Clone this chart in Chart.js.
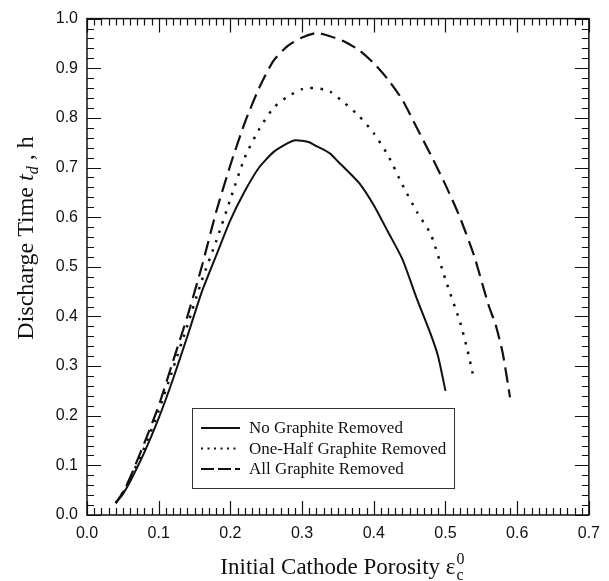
<!DOCTYPE html>
<html>
<head>
<meta charset="utf-8">
<script src="https://cdn.jsdelivr.net/npm/chart.js@4.4.1/dist/chart.umd.min.js"></script>
<style>
    html, body { margin: 0; padding: 0; background: #fff; }
</style>
</head>
<body>
<canvas id="dischargeChart" width="609" height="581"></canvas>
<script>
// initial cathode porosity (x) and discharge time in hours (y)
const porosityNone = [0.04, 0.05, 0.06, 0.08, 0.10, 0.12, 0.14, 0.16, 0.18, 0.20, 0.22, 0.24, 0.26, 0.28, 0.29, 0.30, 0.31, 0.32, 0.33, 0.34, 0.35, 0.36, 0.38, 0.40, 0.42, 0.44, 0.46, 0.48, 0.49, 0.50];
const timeNone = [0.024, 0.042, 0.067, 0.126, 0.195, 0.274, 0.360, 0.449, 0.522, 0.594, 0.652, 0.700, 0.731, 0.749, 0.755, 0.754, 0.751, 0.743, 0.736, 0.727, 0.712, 0.698, 0.668, 0.624, 0.570, 0.515, 0.436, 0.362, 0.318, 0.250];

const porosityHalf = [0.04, 0.05, 0.06, 0.08, 0.10, 0.12, 0.14, 0.16, 0.18, 0.20, 0.22, 0.24, 0.26, 0.28, 0.30, 0.31, 0.32, 0.33, 0.34, 0.36, 0.38, 0.40, 0.42, 0.44, 0.46, 0.48, 0.50, 0.52, 0.53, 0.538];
const timeHalf = [0.024, 0.045, 0.072, 0.136, 0.210, 0.295, 0.382, 0.472, 0.551, 0.636, 0.720, 0.777, 0.820, 0.843, 0.858, 0.860, 0.860, 0.857, 0.852, 0.829, 0.803, 0.769, 0.724, 0.665, 0.611, 0.564, 0.474, 0.390, 0.336, 0.285];

const porosityAll = [0.04, 0.05, 0.06, 0.08, 0.10, 0.12, 0.14, 0.16, 0.18, 0.20, 0.22, 0.24, 0.26, 0.28, 0.30, 0.32, 0.34, 0.36, 0.38, 0.40, 0.42, 0.44, 0.46, 0.48, 0.50, 0.52, 0.54, 0.56, 0.57, 0.58, 0.59];
const timeAll = [0.024, 0.045, 0.075, 0.145, 0.220, 0.310, 0.400, 0.500, 0.610, 0.705, 0.790, 0.860, 0.915, 0.945, 0.962, 0.971, 0.964, 0.953, 0.936, 0.910, 0.877, 0.836, 0.780, 0.724, 0.665, 0.600, 0.522, 0.423, 0.383, 0.325, 0.237];

const seriesLabels = ["No Graphite Removed", "One-Half Graphite Removed", "All Graphite Removed"];

const xTickValues = [0, 0.1, 0.2, 0.3, 0.4, 0.5, 0.6, 0.7];
const xTickLabels = ["0.0", "0.1", "0.2", "0.3", "0.4", "0.5", "0.6", "0.7"];
const yTickValues = [0, 0.1, 0.2, 0.3, 0.4, 0.5, 0.6, 0.7, 0.8, 0.9, 1.0];
const yTickLabels = ["0.0", "0.1", "0.2", "0.3", "0.4", "0.5", "0.6", "0.7", "0.8", "0.9", "1.0"];

const INK = "#111";
const SANS = '"Liberation Sans", Arial, sans-serif';
const SERIF = '"Liberation Serif", "Times New Roman", serif';

function toPoints(xs, ys) {
    return xs.map((x, i) => ({ x: x, y: ys[i] }));
}

// box frame with inward major/minor ticks on all four sides
const frameTicks = {
    id: "frameTicks",
    afterDatasetsDraw(chart) {
        const { ctx, chartArea: a, scales: { x, y } } = chart;
        ctx.save();
        ctx.strokeStyle = INK;
        ctx.lineWidth = 1.2;
        ctx.beginPath();
        for (let i = 0; i <= 70; i++) {
            const px = Math.round(x.getPixelForValue(i / 100)) + 0.5;
            const len = i % 10 === 0 ? 14 : 7;
            ctx.moveTo(px, a.bottom);
            ctx.lineTo(px, a.bottom - len);
            ctx.moveTo(px, a.top);
            ctx.lineTo(px, a.top + len);
        }
        for (let i = 0; i <= 50; i++) {
            const py = Math.round(y.getPixelForValue(i / 50)) + 0.5;
            const len = i % 5 === 0 ? 14 : 7;
            ctx.moveTo(a.left, py);
            ctx.lineTo(a.left + len, py);
            ctx.moveTo(a.right, py);
            ctx.lineTo(a.right - len, py);
        }
        ctx.stroke();
        ctx.lineWidth = 1.5;
        ctx.strokeRect(a.left, a.top, a.right - a.left, a.bottom - a.top);
        ctx.restore();
    }
};

// axis titles with sub/superscripts
const axisTitles = {
    id: "axisTitles",
    afterDraw(chart) {
        const { ctx, chartArea: a } = chart;
        ctx.save();
        ctx.fillStyle = INK;
        ctx.textBaseline = "alphabetic";
        ctx.textAlign = "left";

        // x title
        let fs = 23;
        let small = Math.round(fs * 0.68);
        const xMain = "Initial Cathode Porosity ";
        ctx.font = `${fs}px ${SERIF}`;
        const wMain = ctx.measureText(xMain).width;
        const wEps = ctx.measureText("\u03b5").width;
        ctx.font = `${small}px ${SERIF}`;
        const wScript = ctx.measureText("0").width;
        let x0 = (a.left + a.right) / 2 + 4 - (wMain + wEps + wScript) / 2;
        const base = 574;
        ctx.font = `${fs}px ${SERIF}`;
        ctx.fillText(xMain, x0, base);
        x0 += wMain;
        ctx.fillText("\u03b5", x0, base);
        x0 += wEps + 1;
        ctx.font = `${small}px ${SERIF}`;
        ctx.fillText("0", x0, base - 10);
        ctx.fillText("c", x0, base + 6);

        // y title (rotated)
        fs = 24;
        small = Math.round(fs * 0.68);
        ctx.translate(25, 238);
        ctx.rotate(-Math.PI / 2);
        const p1 = "Discharge Time ";
        const p3 = " , h";
        ctx.font = `${fs}px ${SERIF}`;
        const w1 = ctx.measureText(p1).width;
        const w3 = ctx.measureText(p3).width;
        ctx.font = `italic ${fs}px ${SERIF}`;
        const wt = ctx.measureText("t").width;
        ctx.font = `italic ${small}px ${SERIF}`;
        const wd = ctx.measureText("d").width;
        let cx = -(w1 + wt + wd + w3) / 2;
        const yb = fs * 0.33;
        ctx.font = `${fs}px ${SERIF}`;
        ctx.fillText(p1, cx, yb);
        cx += w1;
        ctx.font = `italic ${fs}px ${SERIF}`;
        ctx.fillText("t", cx, yb);
        cx += wt;
        ctx.font = `italic ${small}px ${SERIF}`;
        ctx.fillText("d", cx, yb + 5);
        cx += wd;
        ctx.font = `${fs}px ${SERIF}`;
        ctx.fillText(p3, cx, yb);
        ctx.restore();
    }
};

// boxed legend inside the plot
const boxLegend = {
    id: "boxLegend",
    afterDraw(chart) {
        const { ctx } = chart;
        const left = 192, top = 408, right = 454, bottom = 488;
        const samples = [[], [2, 4.5], [13, 4]];
        ctx.save();
        ctx.fillStyle = "#fff";
        ctx.fillRect(left, top, right - left, bottom - top);
        ctx.strokeStyle = "#333";
        ctx.lineWidth = 1;
        ctx.strokeRect(left + 0.5, top + 0.5, right - left, bottom - top);
        ctx.font = `17px ${SERIF}`;
        ctx.textBaseline = "middle";
        ctx.fillStyle = INK;
        chart.data.datasets.forEach((ds, i) => {
            const rowY = top + 20 + i * 20.5;
            ctx.beginPath();
            ctx.setLineDash(samples[i]);
            ctx.lineWidth = i === 1 ? 2 : 1.8;
            ctx.strokeStyle = INK;
            ctx.moveTo(201, rowY);
            ctx.lineTo(240, rowY);
            ctx.stroke();
            ctx.setLineDash([]);
            ctx.fillText(ds.label, 249, rowY + 1);
        });
        ctx.restore();
    }
};

const lineStyle = { borderColor: INK, borderWidth: 2, pointRadius: 0, fill: false, tension: 0.2 };

new Chart(document.getElementById("dischargeChart"), {
    type: "line",
    data: {
        datasets: [
            Object.assign({ label: seriesLabels[0], data: toPoints(porosityNone, timeNone) }, lineStyle),
            Object.assign({ label: seriesLabels[1], data: toPoints(porosityHalf, timeHalf) }, lineStyle, { borderDash: [2.5, 7.5], borderWidth: 2.5 }),
            Object.assign({ label: seriesLabels[2], data: toPoints(porosityAll, timeAll) }, lineStyle, { borderDash: [15, 7], borderWidth: 2.2 })
        ]
    },
    options: {
        responsive: false,
        animation: false,
        devicePixelRatio: 1,
        layout: { padding: { top: 14, right: 18, left: 0, bottom: 0 } },
        plugins: {
            legend: { display: false },
            tooltip: { enabled: false }
        },
        scales: {
            x: {
                type: "linear",
                min: 0,
                max: 0.7,
                afterBuildTicks(scale) { scale.ticks = xTickValues.map(v => ({ value: v })); },
                afterFit(scale) { scale.height = 66; },
                grid: { display: false, drawTicks: false },
                border: { display: false },
                ticks: {
                    autoSkip: false,
                    maxRotation: 0,
                    padding: 9,
                    color: INK,
                    font: { family: SANS, size: 16 },
                    callback: (v, i) => xTickLabels[i]
                }
            },
            y: {
                type: "linear",
                min: 0,
                max: 1,
                afterBuildTicks(scale) { scale.ticks = yTickValues.map(v => ({ value: v })); },
                afterFit(scale) { scale.width = 87; },
                grid: { display: false, drawTicks: false },
                border: { display: false },
                ticks: {
                    autoSkip: false,
                    padding: 9,
                    color: INK,
                    font: { family: SANS, size: 16 },
                    callback: (v, i) => yTickLabels[i]
                }
            }
        }
    },
    plugins: [frameTicks, axisTitles, boxLegend]
});
</script>
</body>
</html>
